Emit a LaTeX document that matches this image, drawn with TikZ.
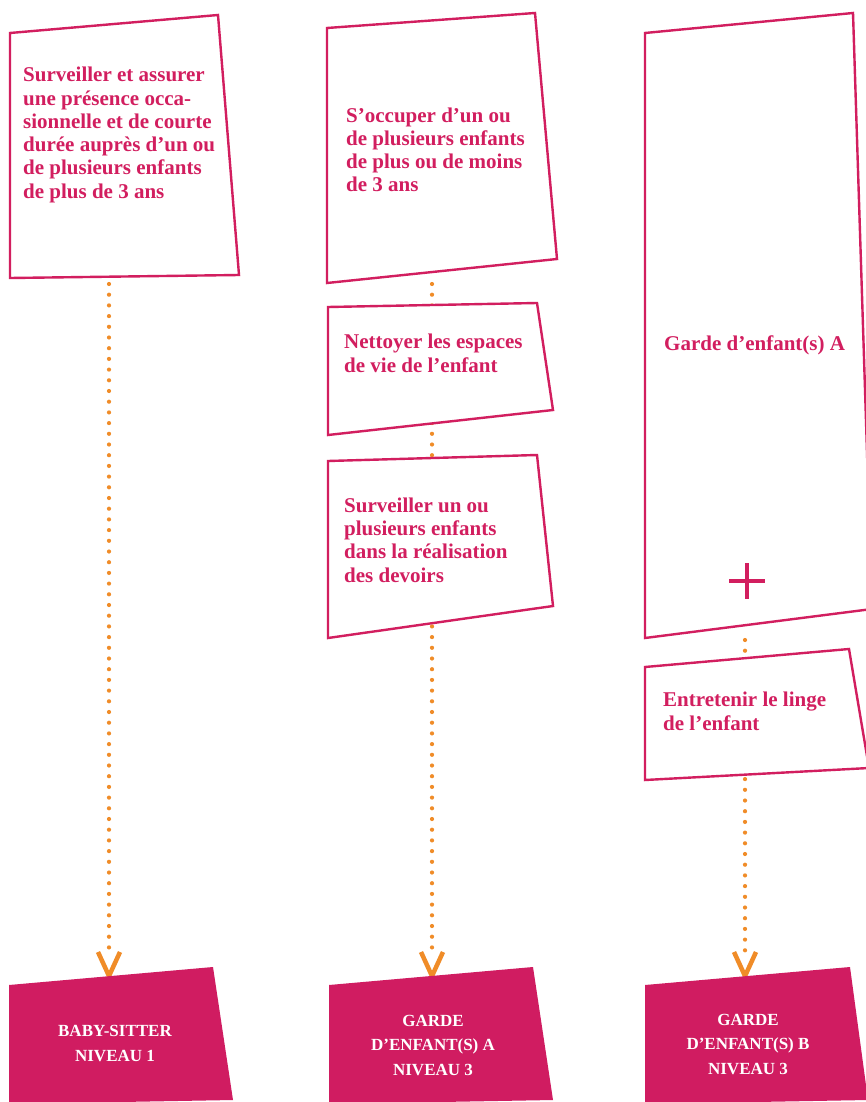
\documentclass[tikz,border=0pt]{standalone}
\usepackage{fontspec}
\setmainfont{Liberation Serif}
\usetikzlibrary{calc}
\definecolor{mag}{HTML}{D21E5F}
\definecolor{magfill}{HTML}{D01C61}
\definecolor{org}{HTML}{F08C28}
\tikzset{
  boxline/.style={draw=mag, line width=2.4pt, fill=white, line join=miter},
  boxfill/.style={fill=magfill, draw=none},
  lbl/.style={anchor=base west, inner sep=0pt, align=left, text=mag,
     font=\fontsize{21}{23.2}\selectfont\bfseries},
  wlbl/.style={anchor=base, inner sep=0pt, align=center, text=white,
     font=\fontsize{17}{24.5}\selectfont\bfseries},
  dotconn/.style={draw=org, line width=4.2pt, line cap=round, dash pattern=on 0pt off 10.7pt},
  vtip/.style={draw=org, line width=4.5pt, line cap=butt, line join=miter},
}
\begin{document}
\begin{tikzpicture}[x=1pt,y=-1pt]
\path[use as bounding box, clip] (0,0) rectangle (866,1102);
\fill[white] (0,0) rectangle (866,1102);

% connector coordinates
\coordinate (s1) at (109,284);
\coordinate (e1) at (109,958);
\coordinate (t1) at (109,976);
\coordinate (s2) at (432,284);
\coordinate (e2) at (432,958);
\coordinate (t2) at (432,976);
\coordinate (s3) at (745,640);
\coordinate (e3) at (745,958);
\coordinate (t3) at (745,976);

% dotted connectors (behind boxes)
\draw[dotconn] (s1) -- (e1);
\draw[dotconn] (s2) -- (e2);
\draw[dotconn] (s3) -- (e3);

% V arrowheads
\foreach \t in {t1,t2,t3}{
  \draw[vtip] ($(\t)+(-11,-24)$) -- (\t) -- ($(\t)+(11,-24)$);
}

% column 1
\draw[boxline] (10,33) -- (218,15) -- (239,275) -- (10,278) -- cycle;
\node[lbl] (b1) at (23,198) {Surveiller et assurer\\une présence occa-\\sionnelle et de courte\\durée auprès d’un ou\\de plusieurs enfants\\de plus de 3 ans};

% column 2
\draw[boxline] (327,28) -- (535,13) -- (557,259) -- (327,283) -- cycle;
\node[lbl] (b2) at (346,192) {S’occuper d’un ou\\de plusieurs enfants\\de plus ou de moins\\de 3 ans};
\draw[boxline] (328,307) -- (537,303) -- (553,410) -- (328,435) -- cycle;
\node[lbl] (b3) at (344,372) {Nettoyer les espaces\\de vie de l’enfant};
\draw[boxline] (328,461) -- (537,455) -- (553,606) -- (328,638) -- cycle;
\node[lbl] (b4) at (344,582) {Surveiller un ou\\plusieurs enfants\\dans la réalisation\\des devoirs};

% column 3
\draw[boxline] (645,33) -- (853,13) -- (872,609) -- (645,638) -- cycle;
\node[lbl] (b5) at (664,350) {Garde d’enfant(s) A};
\draw[mag, line width=4.5pt] (729,581) -- (765,581);
\draw[mag, line width=4.5pt] (747,563) -- (747,599);
\draw[boxline] (645,667) -- (849,649) -- (869,768) -- (645,780) -- cycle;
\node[lbl] (b6) at (663,730) {Entretenir le linge\\de l’enfant};

% bottom boxes
\fill[boxfill] (9,985) -- (213,967) -- (233,1100) -- (9,1104) -- cycle;
\node[wlbl] (r1) at (115,1061) {BABY-SITTER\\NIVEAU 1};
\fill[boxfill] (329,985) -- (533,967) -- (553,1100) -- (329,1104) -- cycle;
\node[wlbl] (r2) at (433,1075) {GARDE\\D’ENFANT(S) A\\NIVEAU 3};
\fill[boxfill] (645,985) -- (850,967) -- (868,1100) -- (645,1104) -- cycle;
\node[wlbl] (r3) at (748,1074) {GARDE\\D’ENFANT(S) B\\NIVEAU 3};
\end{tikzpicture}
\end{document}
